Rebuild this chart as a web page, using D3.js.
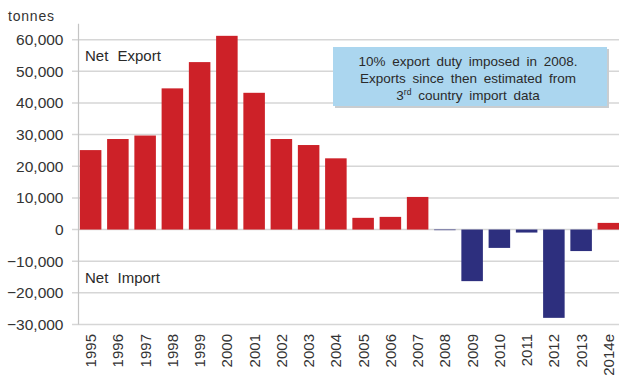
<!DOCTYPE html>
<html>
<head>
<meta charset="utf-8">
<script src="https://cdn.jsdelivr.net/npm/d3@7"></script>
<style>
  html, body { margin: 0; padding: 0; background: #fff; }
  svg { display: block; font-family: "Liberation Sans", Arial, sans-serif; }
</style>
</head>
<body>
<svg id="chart" width="619" height="379"></svg>
<script>
const years = ["1995","1996","1997","1998","1999","2000","2001","2002","2003","2004","2005","2006","2007","2008","2009","2010","2011","2012","2013","2014e"];
const netTrade = [25100, 28600, 29700, 44600, 52900, 61200, 43200, 28600, 26700, 22500, 3700, 4000, 10300, -200, -16300, -5800, -950, -27900, -6800, 2100];
const yTicks = [-30000, -20000, -10000, 0, 10000, 20000, 30000, 40000, 50000, 60000];
const unitLabel = "tonnes";
const noteLines = ["10% export duty imposed in 2008.", "Exports since then estimated from", "3|rd| country import data"];

const svg = d3.select("#chart");
const x = d3.scaleBand().domain(years).range([77, 622]).paddingInner(0.21).paddingOuter(0.105);
const y = d3.scaleLinear().domain([-30000, 65000]).range([324.5, 23.8]);
const txt = "#333333";

// gridlines
svg.append("g").selectAll("line").data(yTicks).join("line")
  .attr("x1", 72).attr("x2", 619)
  .attr("y1", d => y(d)).attr("y2", d => y(d))
  .attr("stroke", "#d6d6d6").attr("stroke-width", 1.5);

// y axis line
svg.append("line").attr("x1", 78.5).attr("x2", 78.5)
  .attr("y1", y(65000)).attr("y2", y(-30000))
  .attr("stroke", "#c4c4c4").attr("stroke-width", 1.2);

// y labels
const yAxis = d3.axisLeft(y).tickValues(yTicks).tickFormat(d3.format(",")).tickSize(0).tickPadding(0);
const ya = svg.append("g").attr("transform", "translate(63.5,0)").call(yAxis);
ya.select(".domain").remove();
ya.selectAll("text").attr("font-size", 15.5).attr("fill", txt)
  .attr("font-family", "'Liberation Sans', Arial, sans-serif");

svg.append("text").attr("x", 8).attr("y", 21).attr("font-size", 14).attr("fill", txt)
  .attr("letter-spacing", 0.8).text(unitLabel);

// bars
svg.append("g").selectAll("rect").data(years.map((yr, i) => ({yr, v: netTrade[i]}))).join("rect")
  .attr("x", d => x(d.yr))
  .attr("width", x.bandwidth())
  .attr("y", d => y(Math.max(0, d.v)))
  .attr("height", d => Math.abs(y(d.v) - y(0)))
  .attr("fill", d => d.v >= 0 ? "#cd2128" : "#2d2f7e");

// x labels
const xAxis = d3.axisBottom(x).tickSize(0).tickPadding(0);
const xa = svg.append("g").attr("transform", "translate(0,334)").call(xAxis);
xa.select(".domain").remove();
xa.selectAll("text")
  .attr("font-size", 15).attr("fill", txt)
  .attr("font-family", "'Liberation Sans', Arial, sans-serif")
  .attr("transform", "rotate(-90)")
  .attr("text-anchor", "end")
  .attr("dy", "0.36em").attr("x", 0).attr("y", 0);

// region labels
svg.append("text").attr("x", 85).attr("y", 61).attr("font-size", 15).attr("fill", "#2a2a2a")
  .attr("word-spacing", 5).text("Net Export");
svg.append("text").attr("x", 85).attr("y", 283).attr("font-size", 15).attr("fill", "#2a2a2a")
  .attr("word-spacing", 5).text("Net Import");

// note box
const bx = 333, by = 47, bw = 274, bh = 59;
svg.append("rect").attr("x", bx + 2).attr("y", by + 2).attr("width", bw).attr("height", bh).attr("fill", "#c9cdd0");
svg.append("rect").attr("x", bx).attr("y", by).attr("width", bw).attr("height", bh).attr("fill", "#abd6ef");
const nt = svg.append("text").attr("font-size", 13.5).attr("fill", "#2a2a2a").attr("text-anchor", "middle")
  .attr("word-spacing", 3);
noteLines.forEach((ln, i) => {
  const t = nt.append("tspan").attr("x", bx + bw / 2 - 2).attr("y", by + 19 + i * 17);
  if (ln.includes("|")) {
    const parts = ln.split("|");
    t.text(parts[0]);
    nt.append("tspan").attr("font-size", 8.5).attr("dy", -5).text(parts[1]);
    nt.append("tspan").attr("dy", 5).text(parts[2]);
  } else {
    t.text(ln);
  }
});
</script>
</body>
</html>
